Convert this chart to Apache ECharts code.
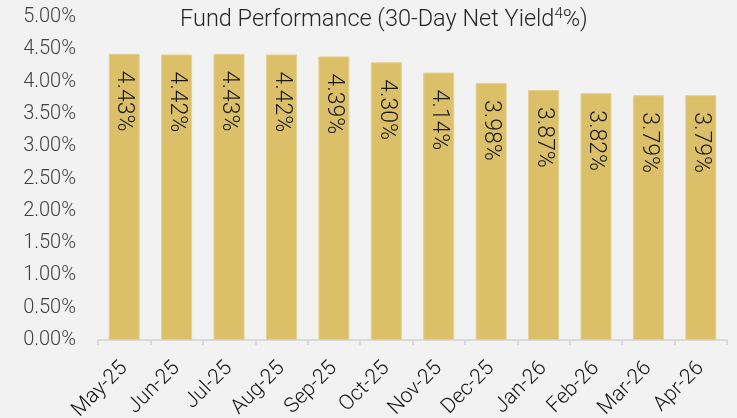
<!DOCTYPE html>
<html><head><meta charset="utf-8">
<script src="https://cdn.jsdelivr.net/npm/echarts@6/dist/echarts.min.js"></script>
<style>html,body{margin:0;padding:0;background:#f2f2f2;}#c{width:737px;height:418px;}</style>
</head><body><div id="c"></div>
<script>
const categories = ['May-25','Jun-25','Jul-25','Aug-25','Sep-25','Oct-25','Nov-25','Dec-25','Jan-26','Feb-26','Mar-26','Apr-26'];
const yields = [4.43,4.42,4.43,4.42,4.39,4.30,4.14,3.98,3.87,3.82,3.79,3.79];
const yTicks = {min:0, max:5, interval:0.5};
const FONT = 'Roboto, sans-serif';
const chart = echarts.init(document.getElementById('c'));
chart.setOption({
  backgroundColor:'#f2f2f2',
  animation:false,
  title:{
    text:'{t|Fund Performance (30-Day Net Yield}{s|4}{t|%)}',
    left:175, top:2,
    textStyle:{rich:{
      t:{fontFamily:FONT,fontSize:23.5,color:'#262626',fontWeight:300},
      s:{fontFamily:FONT,fontSize:15,color:'#262626',verticalAlign:'top',padding:[0,0,12,0],fontWeight:300}
    }}
  },
  grid:{left:98,right:10,top:17,bottom:78,containLabel:false,outerBoundsMode:'none'},
  xAxis:{
    type:'category', data:categories, boundaryGap:true,
    axisLine:{lineStyle:{color:'#d9d9d9',width:2}},
    axisTick:{show:true,length:5,lineStyle:{color:'#d9d9d9',width:2},alignWithLabel:false},
    axisLabel:{rotate:45,fontFamily:FONT,fontSize:21,color:'#111',margin:25,interval:0,fontWeight:300}
  },
  yAxis:{
    type:'value', min:yTicks.min, max:yTicks.max, interval:yTicks.interval,
    splitLine:{show:false}, axisLine:{show:false}, axisTick:{show:false},
    axisLabel:{fontFamily:FONT,fontSize:20,color:'#404040',margin:22,fontWeight:300,
      formatter:v=>v.toFixed(2)+'%'}
  },
  series:[{
    type:'bar', data:yields, barWidth:31,
    itemStyle:{color:'#dbc069',borderColor:'#e4d190',borderWidth:1},
    label:{show:true,position:'insideTop',rotate:-90,distance:17,
      align:'left',verticalAlign:'middle',
      fontFamily:FONT,fontSize:23,color:'#1a1a1a',fontWeight:300,
      formatter:p=>p.value.toFixed(2)+'%'}
  }]
});
</script></body></html>
